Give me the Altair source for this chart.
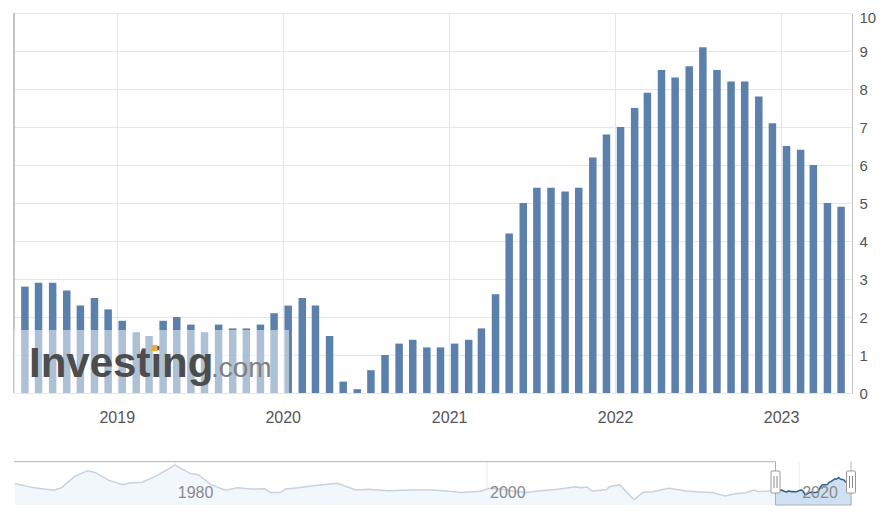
import altair as alt
import pandas as pd

# ---------------- data ----------------
# monthly release dates (mid-month), June 2018 .. May 2023
all_months = [f"{y}-{m:02d}-13" for y in range(2018, 2024) for m in range(1, 13)]
release_dates = all_months[5:65]
cpi_values = [
    2.8, 2.9, 2.9, 2.7, 2.3, 2.5, 2.2, 1.9, 1.6, 1.5, 1.9, 2.0,
    1.8, 1.6, 1.8, 1.7, 1.7, 1.8, 2.1, 2.3, 2.5, 2.3, 1.5, 0.3,
    0.1, 0.6, 1.0, 1.3, 1.4, 1.2, 1.2, 1.3, 1.4, 1.7, 2.6, 4.2,
    5.0, 5.4, 5.4, 5.3, 5.4, 6.2, 6.8, 7.0, 7.5, 7.9, 8.5, 8.3,
    8.6, 9.1, 8.5, 8.2, 8.2, 7.8, 7.1, 6.5, 6.4, 6.0, 5.0, 4.9,
]

# navigator (long history)
nav_dates = [
    "1969-10-01", "1971-01-01", "1972-04-01", "1972-10-01", "1973-08-01",
    "1974-06-01", "1974-12-01", "1975-10-01", "1976-09-01", "1977-02-01",
    "1977-12-01", "1978-12-01", "1980-01-01", "1980-05-01", "1981-01-01",
    "1981-07-01", "1982-05-01", "1983-04-01", "1984-01-01", "1984-12-01",
    "1985-10-01", "1986-03-01", "1986-10-01", "1987-02-01", "1987-12-01",
    "1989-01-01", "1990-06-01", "1991-08-01", "1992-06-01", "1993-09-01",
    "1995-03-01", "1996-06-01", "1997-06-01", "1998-05-01", "1999-08-01",
    "2000-03-01", "2000-12-01", "2001-10-01", "2002-08-01", "2003-06-01",
    "2004-06-01", "2005-09-01", "2006-01-01", "2006-06-01", "2006-10-01",
    "2007-09-01", "2007-11-01", "2008-07-01", "2009-06-01", "2010-01-01",
    "2010-08-01", "2011-09-01", "2012-10-01", "2013-06-01", "2014-06-01",
    "2015-04-01", "2015-12-01", "2016-08-01", "2017-02-01", "2017-06-01",
    "2018-02-01",
]
nav_values = [
    6.0, 3.7, 2.5, 3.8, 9.8,
    12.8, 11.8, 7.8, 5.4, 6.3,
    6.7, 10.5, 15.8, 14.3, 11.3,
    10.7, 5.4, 2.4, 3.7, 3.1,
    3.2, 1.2, 1.2, 3.1, 3.7,
    4.9, 6.1, 2.6, 2.9, 2.2,
    2.6, 2.6, 2.1, 1.2, 1.9,
    3.5, 3.1, 1.9, 1.3, 2.2,
    2.8, 4.3, 3.8, 4.2, 1.9,
    2.8, 4.3, 5.4, -2.6, 1.4,
    1.6, 3.5, 2.0, 1.6, 1.2,
    -0.6, 0.6, 1.1, 2.6, 1.7,
    2.1,
]
nav_tick_dates = ["1980-01-01", "2000-01-01", "2020-01-01"]
nav_tick_labels = ["1980", "2000", "2020"]

main_df = pd.DataFrame({"date": release_dates, "value": cpi_values})
nav_df = pd.DataFrame({"date": nav_dates + release_dates,
                       "value": nav_values + cpi_values})
ticks_df = pd.DataFrame({"date": nav_tick_dates, "label": nav_tick_labels})
one = pd.DataFrame({"k": [0]})

W, H = 838, 380
FONT = "Liberation Sans"
BAR = "#5b80ab"
NB, NT = 492, 448.7  # navigator bottom / top (pixels from plot top)

main_x = alt.Scale(type="utc",
                   domain=[alt.DateTime(year=2018, month=5, date=31, utc=True),
                           alt.DateTime(year=2023, month=5, date=26, utc=True)])
main_y = alt.Scale(domain=[0, 10], nice=False)
nav_x = alt.Scale(type="utc",
                  domain=[alt.DateTime(year=1969, month=9, date=13, utc=True),
                          alt.DateTime(year=2023, month=5, date=20, utc=True)])
nav_y = alt.Scale(domain=[-5.4, 17.6], range=[NB, NT], nice=False, zero=False)

# ---------------- main chart ----------------
bars = alt.Chart(main_df).mark_bar(color=BAR, size=7.5).encode(
    x=alt.X("date:T", scale=main_x, title=None,
            axis=alt.Axis(values=[alt.DateTime(year=y, month=1, date=1, utc=True)
                                  for y in range(2019, 2024)],
                          format="%Y", grid=True, gridColor="#e6e6e6",
                          domain=False, ticks=False, labelPadding=16,
                          labelFontSize=16, labelColor="#555", labelFont=FONT)),
    y=alt.Y("value:Q", scale=main_y, title=None,
            axis=alt.Axis(orient="right", values=list(range(11)), grid=True,
                          gridColor="#e6e6e6", domain=True, domainColor="#c4c4c4",
                          ticks=False, labelPadding=7, labelFontSize=15,
                          labelOffset={"condition": {"test": "datum.value == 10",
                                                     "value": 4},
                                       "value": 0},
                          labelColor="#555", labelFont=FONT)),
)

left_border = alt.Chart(one).mark_rule(color="#b0b0b0", strokeWidth=1.5).encode(
    x=alt.value(0), y=alt.value(0), y2=alt.value(H))

wm_rect = alt.Chart(one).mark_rect(color="white", opacity=0.5).encode(
    x=alt.value(0), x2=alt.value(275), y=alt.value(H - 63), y2=alt.value(H))
wm_text = alt.Chart(one).mark_text(text="Investing", font=FONT, fontSize=42,
                                   fontWeight="bold", color="#4d4d4d",
                                   align="left", baseline="alphabetic").encode(
    x=alt.value(15), y=alt.value(H - 16))
wm_com = alt.Chart(one).mark_text(text=".com", font=FONT, fontSize=28,
                                  color="#808080", align="left",
                                  baseline="alphabetic").encode(
    x=alt.value(197), y=alt.value(H - 16))
wm_dot = alt.Chart(one).mark_square(color="#f2a838", size=36, opacity=1).encode(
    x=alt.value(140.5), y=alt.value(H - 45))

# ---------------- navigator ----------------
nav_grid = alt.Chart(ticks_df).mark_rule(color="#eeeeee").encode(
    x=alt.X("date:T", scale=nav_x, axis=None),
    y=alt.value(NT), y2=alt.value(NB))
nav_area = alt.Chart(nav_df).mark_area(color="#f2f7fc", line=False).encode(
    x=alt.X("date:T", scale=nav_x, axis=None),
    y=alt.Y("value:Q", scale=nav_y, axis=None),
    y2=alt.datum(-5.4))
nav_line = alt.Chart(nav_df).mark_line(color="#c5d3e1", strokeWidth=1.5).encode(
    x=alt.X("date:T", scale=nav_x, axis=None),
    y=alt.Y("value:Q", scale=nav_y, axis=None))
sel_area = alt.Chart(main_df).mark_area(color="#cfe0f5").encode(
    x=alt.X("date:T", scale=nav_x, axis=None),
    y=alt.Y("value:Q", scale=nav_y, axis=None),
    y2=alt.datum(-5.4))
sel_line = alt.Chart(main_df).mark_line(color="#33618e", strokeWidth=1.5).encode(
    x=alt.X("date:T", scale=nav_x, axis=None),
    y=alt.Y("value:Q", scale=nav_y, axis=None))
nav_labels = alt.Chart(ticks_df).mark_text(font=FONT, fontSize=16, color="#8a8a8a",
                                           align="left", baseline="middle",
                                           dx=3).encode(
    x=alt.X("date:T", scale=nav_x, axis=None),
    y=alt.value(NB - 12), text="label:N")

OUT = "#b0b0b0"
L, R = 761.5, 837
outline = [
    alt.Chart(one).mark_rule(color=OUT).encode(
        x=alt.value(0), x2=alt.value(L), y=alt.value(NT)),
    alt.Chart(one).mark_rule(color=OUT).encode(
        x=alt.value(L), y=alt.value(NT), y2=alt.value(NB)),
    alt.Chart(one).mark_rule(color=OUT).encode(
        x=alt.value(L), x2=alt.value(R), y=alt.value(NB)),
    alt.Chart(one).mark_rule(color=OUT).encode(
        x=alt.value(R), y=alt.value(NT), y2=alt.value(NB)),
]
handles = []
for cx in (L, R):
    handles.append(alt.Chart(one).mark_rect(fill="white", stroke="#999999",
                                            strokeWidth=1, cornerRadius=1).encode(
        x=alt.value(cx - 4.5), x2=alt.value(cx + 4.5),
        y=alt.value(NT + 9.3), y2=alt.value(NT + 31.3)))
    for off in (-1.5, 1.5):
        handles.append(alt.Chart(one).mark_rule(color="#888888").encode(
            x=alt.value(cx + off), y=alt.value(NT + 14.3), y2=alt.value(NT + 26.3)))

chart = alt.layer(
    bars, left_border, wm_rect, wm_text, wm_com, wm_dot,
    nav_grid, nav_area, nav_line, sel_area, sel_line, nav_labels,
    *outline, *handles,
).resolve_scale(x="independent", y="independent").properties(
    width=W, height=H,
    autosize=alt.AutoSizeParams(type="none"),
    padding={"left": 6, "top": 5, "right": 28, "bottom": 114},
).configure_view(stroke=None)

chart.save("out.html", embed_options={"renderer": "svg", "actions": False})
